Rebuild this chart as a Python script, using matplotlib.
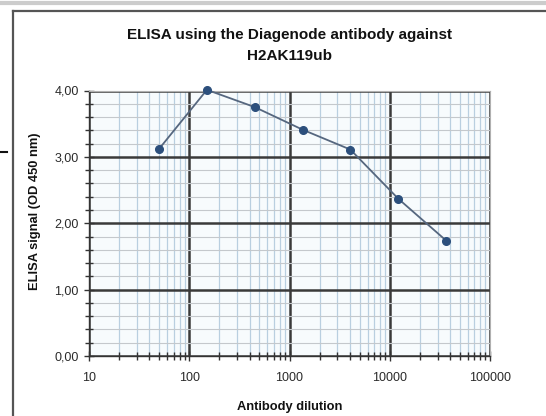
import numpy as np
import matplotlib
matplotlib.use('Agg')
import matplotlib.pyplot as plt
from matplotlib.lines import Line2D
from matplotlib.ticker import FixedLocator, FuncFormatter, LogLocator, NullFormatter

# antibody dilutions (3-fold series) and ELISA signal
dilution = [50, 150, 450, 1350, 4050, 12150, 36450]
signal = [3.12, 4.01, 3.75, 3.41, 3.11, 2.37, 1.74]

x_ticks = [10, 100, 1000, 10000, 100000]
x_tick_labels = ['10', '100', '1000', '10000', '100000']
y_ticks = [0, 1, 2, 3, 4]

title = 'ELISA using the Diagenode antibody against\nH2AK119ub'
x_label = 'Antibody dilution'
y_label = 'ELISA signal (OD 450 nm)'

plt.rcParams['font.family'] = ['Liberation Sans', 'DejaVu Sans']

W, H = 546, 416
fig = plt.figure(figsize=(W / 100, H / 100), dpi=100)
ax = fig.add_axes([89 / W, 1 - 356 / H, (490 - 89) / W, (356 - 90.5) / H])
ax.set_facecolor('#f7fbfd')

ax.set_xscale('log')
ax.set_xlim(10, 100000)
ax.set_ylim(0, 4)

ax.xaxis.set_major_locator(FixedLocator(x_ticks))
ax.set_xticklabels(x_tick_labels)
ax.xaxis.set_minor_locator(LogLocator(base=10, subs=np.arange(2, 10)))
ax.xaxis.set_minor_formatter(NullFormatter())
ax.yaxis.set_major_locator(FixedLocator(y_ticks))
ax.yaxis.set_minor_locator(FixedLocator(np.arange(0, 4.01, 0.2)))
ax.yaxis.set_major_formatter(FuncFormatter(lambda v, p: f'{v:.2f}'.replace('.', ',')))

ax.grid(which='minor', axis='x', color='#b9cfe0', linewidth=0.9)
ax.grid(which='minor', axis='y', color='#c4c8cc', linewidth=0.8)
ax.grid(which='major', color='#3a3a3a', linewidth=1.8)
ax.set_axisbelow(True)

ax.tick_params(which='both', direction='inout', color='#333333', labelsize=9,
               labelcolor='#2a2a2a')
ax.tick_params(which='major', length=7, width=1)
ax.tick_params(which='minor', length=6, width=1)
ax.tick_params(axis='x', pad=8)
ax.tick_params(axis='y', pad=4)

for side in ['left', 'bottom']:
    ax.spines[side].set_color('#333333')
    ax.spines[side].set_linewidth(1.0)
for side in ['top', 'right']:
    ax.spines[side].set_color('#b0b0b0')
    ax.spines[side].set_linewidth(0.8)

ax.plot(dilution, signal, color='#56677f', linewidth=1.3, marker='o',
        markersize=5.5, markerfacecolor='#2c4f7c', markeredgecolor='#2c4f7c',
        zorder=5, clip_on=False)

ax.set_title(title, fontsize=11, fontweight='bold', pad=22, linespacing=1.65,
             color='#111111')
ax.set_xlabel(x_label, fontsize=9.3, fontweight='bold', labelpad=12, color='#111111')
ax.set_ylabel(y_label, fontsize=9.3, fontweight='bold', color='#111111')
ax.yaxis.set_label_coords(-(89 - 41) / (490 - 89), (356 - 211) / (356 - 90.5))

# outer frame of the screenshot
fig.add_artist(Line2D([0, 1], [1 - 2.5 / H, 1 - 2.5 / H], color='#cccccc', linewidth=3))
fig.add_artist(Line2D([13 / W, 13 / W], [0, 1 - 11 / H], color='#555555', linewidth=1.6))
fig.add_artist(Line2D([13 / W, 1], [1 - 11 / H, 1 - 11 / H], color='#555555', linewidth=1.6))
fig.add_artist(Line2D([0, 7 / W], [1 - 152 / H, 1 - 152 / H], color='#111111', linewidth=1.5))

fig.savefig('out.png', dpi=100)
